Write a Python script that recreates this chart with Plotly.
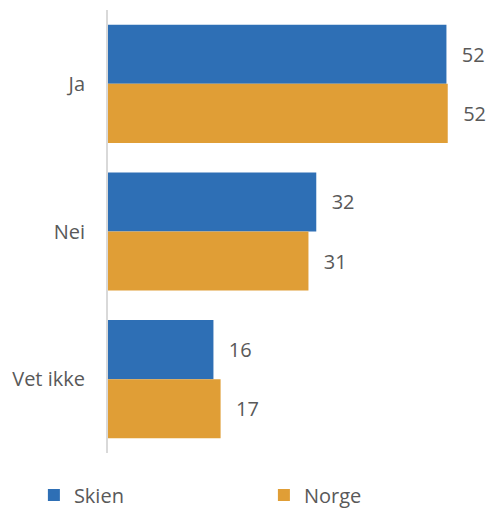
import plotly.graph_objects as go

categories = ["Ja", "Nei", "Vet ikke"]
skien = [52.0, 32.0, 16.2]
norge = [52.2, 30.8, 17.3]

BLUE = "#2E6FB5"
ORANGE = "#E09E36"
GREY = "#595959"
FONT = "Open Sans, sans-serif"

fig = go.Figure()
for name, vals, color, leg in [("Skien", skien, BLUE, "legend"), ("Norge", norge, ORANGE, "legend2")]:
    fig.add_trace(go.Bar(
        y=categories, x=vals, name=name, orientation="h",
        marker_color=color, marker_line_width=0, legend=leg,
        texttemplate="  \u200a%{x:.0f}", textposition="outside",
        textfont=dict(color=GREY, size=20, family=FONT), cliponaxis=False,
    ))

legend_style = dict(
    orientation="h", xref="paper", xanchor="left",
    yref="paper", y=-0.0948, yanchor="middle",
    itemwidth=30, font=dict(size=20, color=GREY),
)

fig.update_layout(
    width=492, height=509,
    margin=dict(l=108, r=0, t=10, b=56, autoexpand=False),
    barmode="group", bargap=0.2, bargroupgap=0,
    plot_bgcolor="white", paper_bgcolor="white",
    font=dict(family=FONT, size=20, color=GREY),
    xaxis=dict(range=[0, 59], visible=False, fixedrange=True, automargin=False),
    yaxis=dict(
        autorange="reversed", showline=True, linecolor="#D9D9D9", linewidth=2,
        ticks="outside", ticklen=17, tickcolor="rgba(0,0,0,0)",
        showgrid=False, zeroline=False, automargin=False, fixedrange=True,
    ),
    showlegend=True,
    legend=dict(legend_style, x=-0.193),
    legend2=dict(legend_style, x=0.406),
)

fig.write_html(
    "out.html",
    config={"displayModeBar": False},
    post_script="document.body.style.margin='0';",
)
